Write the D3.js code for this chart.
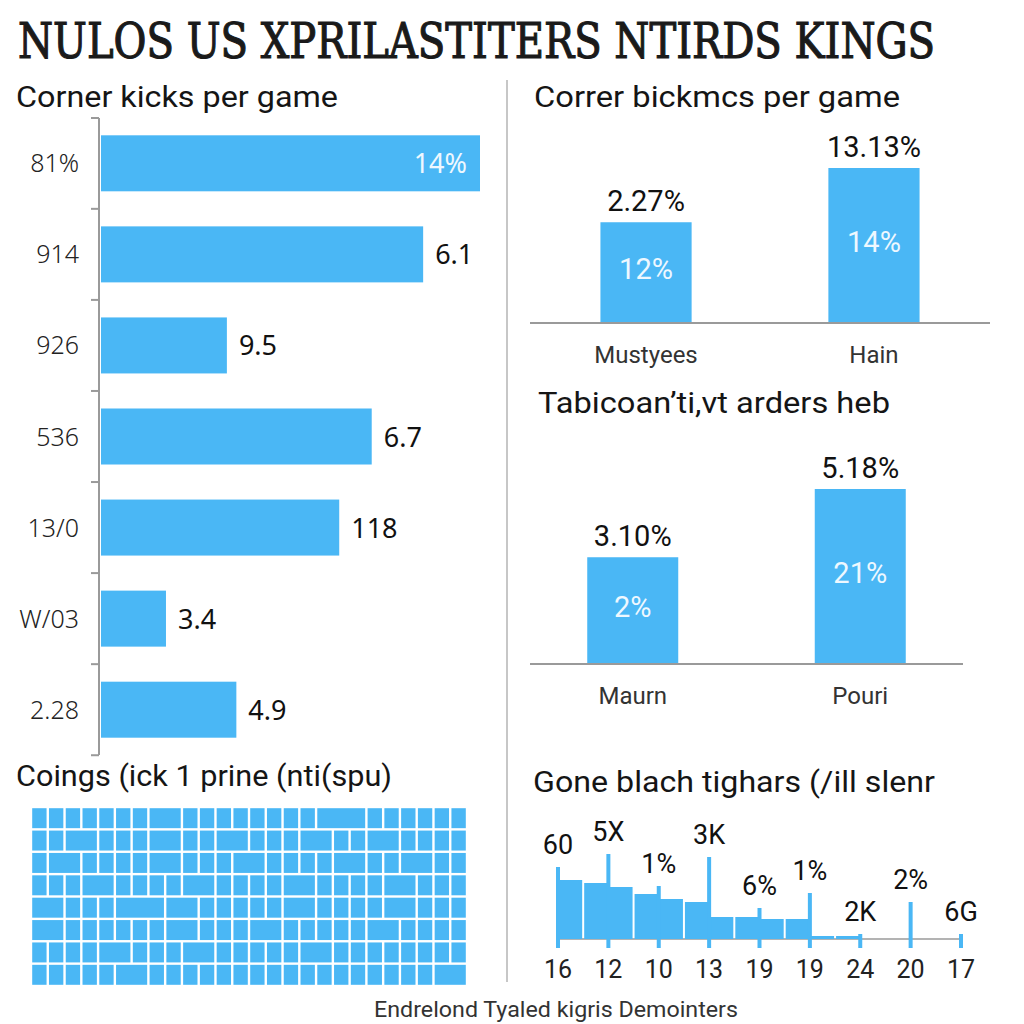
<!DOCTYPE html>
<html>
<head>
<meta charset="utf-8">
<script src="https://cdn.jsdelivr.net/npm/d3@7"></script>
<style>
  html, body { margin: 0; padding: 0; background: #fff; }
  svg { display: block; }
</style>
</head>
<body>
<script>
// ---------- DATA ----------
const mainTitle = "NULOS US XPRILASTITERS NTIRDS KINGS";
const footerText = "Endrelond Tyaled kigris Demointers";

// left horizontal bar chart
const leftTitle = "Corner kicks per game";
const leftCats = ["81%", "914", "926", "536", "13/0", "W/03", "2.28"];
const leftValues = [14, 11.9, 4.65, 10.0, 8.8, 2.4, 5.0];
const leftLabels = ["14%", "6.1", "9.5", "6.7", "118", "3.4", "4.9"];
const leftInside = [true, false, false, false, false, false, false];

// top right column chart
const topTitle = "Correr bickmcs per game";
const topCats = ["Mustyees", "Hain"];
const topValues = [6.5, 10];
const topOuter = ["2.27%", "13.13%"];
const topInner = ["12%", "14%"];

// middle right column chart
const midTitle = "Tabicoan\u2019ti,vt arders heb";
const midCats = ["Maurn", "Pouri"];
const midValues = [6.1, 10];
const midOuter = ["3.10%", "5.18%"];
const midInner = ["2%", "21%"];

// bottom left tile grid (cell spans per row, in grid units)
const gridTitle = "Coings (ick 1 prine (nti(spu)";
const gridRows = [
  [1,1,1,1,1,1,1,2,1,1,1,1,1,1,1,1,3,1,1,1,1,1,1],
  [1,1,2,1,1,1,2,1,1,2,1,1,1,2,1,1,2,1,1,1,1],
  [1,2,1,1,1,1,2,1,1,1,2,1,1,1,1,2,1,1,2,1,1],
  [1,1,1,2,1,1,1,1,2,1,1,1,1,2,1,1,1,1,2,1,1,1],
  [2,1,1,1,3,2,1,1,1,1,1,2,1,1,1,1,2,1,1,1],
  [2,1,1,1,1,1,1,2,1,1,1,2,1,1,1,1,1,2,1,1,1,1],
  [1,1,1,1,2,1,1,1,2,1,1,1,1,1,2,1,1,1,1,1,1,1,1],
  [1,1,1,1,1,2,1,1,1,1,1,1,1,1,1,1,1,1,1,1,1,1,1,2]
];

// bottom right histogram
const histTitle = "Gone blach tighars (/ill slenr";
const histTicks = ["16", "12", "10", "13", "19", "19", "24", "20", "17"];
const histBars = [59, 56, 52, 45, 40, 37, 22, 22, 20, 20, 3, 3, 0, 0, 0, 0];
const spikeValues = [72, 85, 53, 82, 31, 46, 5, 37, 5];
const spikeLabels = ["60", "5X", "1%", "3K", "6%", "1%", "2K", "2%", "6G"];

// ---------- STYLE ----------
const BLUE = "#4ab7f5";
const AXIS = "#9a9a9a";
const SANS = "Roboto, 'Noto Sans', sans-serif";

const svg = d3.select("body").append("svg")
  .attr("width", 1024).attr("height", 1024);

// title
svg.append("text")
  .attr("x", 18).attr("y", 58)
  .attr("font-family", "'DejaVu Serif Condensed', 'DejaVu Serif', serif")
  .attr("font-stretch", "condensed")
  .attr("font-weight", "normal")
  .attr("font-size", 48)
  .attr("fill", "#1a1a1a")
  .attr("stroke", "#1a1a1a").attr("stroke-width", 1.1)
  .attr("textLength", 917).attr("lengthAdjust", "spacingAndGlyphs")
  .text(mainTitle);

// divider
svg.append("line")
  .attr("x1", 507).attr("x2", 507).attr("y1", 80).attr("y2", 982)
  .attr("stroke", "#b5b5b5").attr("stroke-width", 1.5);

function heading(x, y, txt, len) {
  svg.append("text")
    .attr("x", x).attr("y", y)
    .attr("font-family", SANS).attr("font-size", 29)
    .attr("fill", "#151515")
    .attr("textLength", len).attr("lengthAdjust", "spacingAndGlyphs")
    .text(txt);
}

// ---------- LEFT BAR CHART ----------
heading(16, 107, leftTitle, 322);
const yL = d3.scaleBand().domain(leftCats).range([118, 755]).paddingInner(0.385).paddingOuter(0.19);
const xL = d3.scaleLinear().domain([0, 14]).range([101, 480]);
const gL = svg.append("g");
gL.append("line").attr("x1", 99).attr("x2", 99).attr("y1", 118).attr("y2", 755)
  .attr("stroke", AXIS).attr("stroke-width", 2);
const bounds = [118].concat(leftCats.map(c => yL(c) + yL.bandwidth() + (yL.step() - yL.bandwidth()) / 2));
gL.selectAll("line.tk").data(bounds).join("line").attr("class", "tk")
  .attr("x1", 91).attr("x2", 99).attr("y1", d => d).attr("y2", d => d)
  .attr("stroke", AXIS).attr("stroke-width", 2);
gL.selectAll("rect").data(leftCats).join("rect")
  .attr("x", xL(0)).attr("y", d => yL(d))
  .attr("width", (d, i) => xL(leftValues[i]) - xL(0))
  .attr("height", yL.bandwidth()).attr("fill", BLUE);
gL.selectAll("text.cat").data(leftCats).join("text").attr("class", "cat")
  .attr("x", 79).attr("y", d => yL(d) + yL.bandwidth() / 2 + 9)
  .attr("text-anchor", "end")
  .attr("font-family", "'Noto Sans', 'Open Sans', sans-serif").attr("font-weight", 300)
  .attr("font-size", 25).attr("fill", "#222")
  .text(d => d);
gL.selectAll("text.val").data(leftCats).join("text").attr("class", "val")
  .attr("x", (d, i) => leftInside[i] ? xL(leftValues[i]) - 13 : xL(leftValues[i]) + 12)
  .attr("y", d => yL(d) + yL.bandwidth() / 2 + 10)
  .attr("text-anchor", (d, i) => leftInside[i] ? "end" : "start")
  .attr("font-family", "'Noto Sans', 'Open Sans', sans-serif")
  .attr("font-size", 27)
  .attr("fill", (d, i) => leftInside[i] ? "#eef8ff" : "#111")
  .text((d, i) => leftLabels[i]);

// ---------- COLUMN CHARTS ----------
function columns(cats, vals, outer, inner, x0, x1, base, top, pOuter) {
  const x = d3.scaleBand().domain(cats).range([x0, x1]).paddingInner(0.6).paddingOuter(pOuter);
  const y = d3.scaleLinear().domain([0, 10]).range([base, top]);
  const g = svg.append("g");
  g.selectAll("rect").data(cats).join("rect")
    .attr("x", d => x(d)).attr("width", x.bandwidth())
    .attr("y", (d, i) => y(vals[i])).attr("height", (d, i) => base - y(vals[i]))
    .attr("fill", BLUE);
  g.append("line").attr("x1", x0).attr("x2", x1).attr("y1", base).attr("y2", base)
    .attr("stroke", AXIS).attr("stroke-width", 2);
  g.selectAll("text.o").data(cats).join("text").attr("class", "o")
    .attr("x", d => x(d) + x.bandwidth() / 2).attr("y", (d, i) => y(vals[i]) - 11)
    .attr("text-anchor", "middle").attr("font-family", SANS).attr("font-size", 29)
    .attr("fill", "#111").text((d, i) => outer[i]);
  g.selectAll("text.i").data(cats).join("text").attr("class", "i")
    .attr("x", d => x(d) + x.bandwidth() / 2).attr("y", (d, i) => (y(vals[i]) + base) / 2 + 6)
    .attr("text-anchor", "middle").attr("font-family", SANS).attr("font-size", 29)
    .attr("fill", "#eef8ff").text((d, i) => inner[i]);
  g.selectAll("text.c").data(cats).join("text").attr("class", "c")
    .attr("x", d => x(d) + x.bandwidth() / 2).attr("y", base + 40)
    .attr("text-anchor", "middle").attr("font-family", SANS).attr("font-size", 24)
    .attr("fill", "#333").text(d => d);
}
heading(534, 107, topTitle, 366);
columns(topCats, topValues, topOuter, topInner, 530, 990, 323, 168, 0.309);
heading(538, 413, midTitle, 352);
columns(midCats, midValues, midOuter, midInner, 530, 963, 664, 489, 0.2516);

// ---------- TILE GRID ----------
heading(16, 786, gridTitle, 376);
const units = 26;
const gx = d3.scaleLinear().domain([0, units]).range([31, 467]);
const gy = d3.scaleBand().domain(d3.range(gridRows.length)).range([807, 986]);
const cells = [];
gridRows.forEach((row, r) => {
  let acc = 0;
  row.forEach(span => { cells.push({ r, s: acc, e: acc + span }); acc += span; });
});
svg.append("g").selectAll("rect").data(cells).join("rect")
  .attr("x", d => gx(d.s) + 1.2).attr("width", d => gx(d.e) - gx(d.s) - 2.4)
  .attr("y", d => gy(d.r) + 1.2).attr("height", gy.bandwidth() - 2.4)
  .attr("fill", BLUE);

// ---------- HISTOGRAM ----------
heading(533, 792, histTitle, 402);
const xH = d3.scaleLinear().domain([0, histTicks.length - 1]).range([558, 961]);
const yH = d3.scaleLinear().domain([0, 100]).range([939, 839]);
const gH = svg.append("g");
gH.append("line").attr("x1", xH(0)).attr("x2", xH(8)).attr("y1", 939).attr("y2", 939)
  .attr("stroke", AXIS).attr("stroke-width", 1.5);
gH.selectAll("rect.b").data(histBars).join("rect").attr("class", "b")
  .attr("x", (d, j) => xH(j / 2) + 1).attr("width", (d, j) => xH((j + 1) / 2) - xH(j / 2) - 2)
  .attr("y", d => yH(d)).attr("height", d => yH(0) - yH(d))
  .attr("fill", BLUE);
gH.selectAll("rect.s").data(spikeValues).join("rect").attr("class", "s")
  .attr("x", (d, i) => xH(i) - 2).attr("width", 4)
  .attr("y", d => yH(d)).attr("height", d => yH(0) - yH(d) + 9)
  .attr("fill", BLUE);
gH.selectAll("text.sl").data(spikeLabels).join("text").attr("class", "sl")
  .attr("x", (d, i) => xH(i)).attr("y", (d, i) => yH(spikeValues[i]) - 13)
  .attr("text-anchor", "middle").attr("font-family", SANS).attr("font-size", 27)
  .attr("fill", "#111").text(d => d);
gH.selectAll("text.tl").data(histTicks).join("text").attr("class", "tl")
  .attr("x", (d, i) => xH(i)).attr("y", 978)
  .attr("text-anchor", "middle").attr("font-family", SANS).attr("font-size", 25)
  .attr("fill", "#222").text(d => d);

// footer
svg.append("text")
  .attr("x", 556).attr("y", 1017).attr("text-anchor", "middle")
  .attr("font-family", SANS).attr("font-size", 22).attr("fill", "#333")
  .attr("textLength", 364).attr("lengthAdjust", "spacingAndGlyphs")
  .text(footerText);
</script>
</body>
</html>
